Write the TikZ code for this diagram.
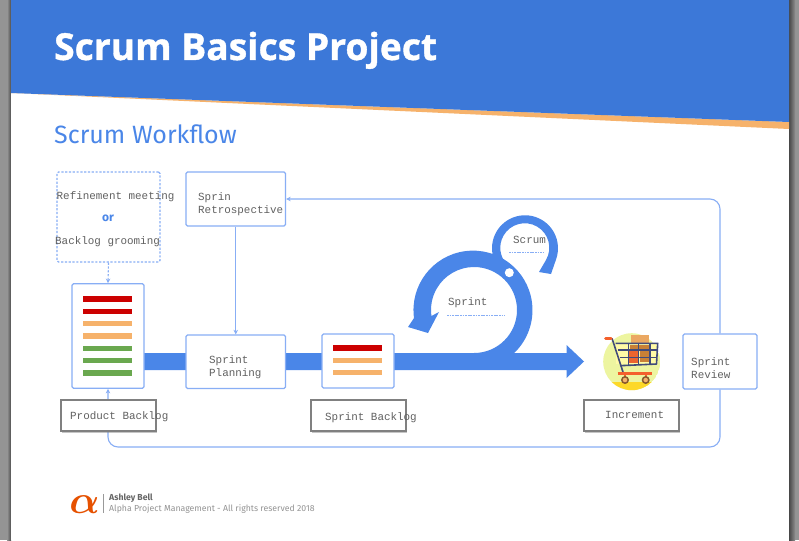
\documentclass[tikz,border=0pt]{standalone}
\usepackage{fontspec}
\setmainfont{Fira Sans}
\setmonofont{Liberation Mono}
\newfontfamily\titlefont[FakeBold=1]{Open Sans Bold}
\usetikzlibrary{arrows.meta,shadows}
\definecolor{headblue}{HTML}{3C78D8}
\definecolor{bandblue}{HTML}{4A86E8}
\definecolor{lineblue}{HTML}{88AEF5}
\definecolor{barred}{HTML}{CC0000}
\definecolor{barorange}{HTML}{F6B26B}
\definecolor{bargreen}{HTML}{6AA84F}
\definecolor{cartnavy}{HTML}{414B7A}
\definecolor{cartred}{HTML}{F4602C}
\definecolor{cartback}{HTML}{EDF5A0}
\definecolor{logored}{HTML}{E65100}
\tikzset{
	box/.style={rectangle,draw=lineblue,fill=white,line width=1.3pt,rounded corners=1.5pt,inner sep=0pt},
	dashbox/.style={box,dash pattern=on 2.2pt off 1.6pt},
	tagbox/.style={rectangle,draw=black!50,fill=white,line width=1.7pt,inner sep=0pt,minimum width=95,minimum height=31,drop shadow={shadow xshift=0.8pt,shadow yshift=-1.6pt,opacity=0.45}},
	txt/.style={anchor=west,inner sep=0pt,text=black!62,font=\ttfamily\fontsize{10.9}{13}\selectfont,align=left},
	flow/.style={draw=lineblue,line width=1.1pt,-{Stealth[length=4.5pt,width=4.5pt]}},
	under/.style={draw=lineblue,line width=0.9pt,dash pattern=on 1.8pt off 0.8pt},
	bar/.style={minimum width=49,minimum height=5.5,inner sep=0pt}
}

\begin{document}
\begin{tikzpicture}[x=1pt,y=1pt]
	\useasboundingbox (0,-540) rectangle (799,0);
	
	% page and margins
	\fill[black!42] (0,-540) rectangle (799,0);
	\shade[left color=black!42,right color=black!70] (7,-540) rectangle (11,0);
	\shade[left color=black!72,right color=black!45] (789,-540) rectangle (795,0);
	\fill[white] (11,-540) rectangle (789,0);
	
	% header
	\fill[barorange] (11,-93) -- (789,-122) -- (789,-129) -- cycle;
	\fill[headblue] (11,0) -- (789,0) -- (789,-122) -- (11,-93) -- cycle;
	\node[anchor=base west,inner sep=0pt,text=white,font=\titlefont\fontsize{37.2}{40}\selectfont] (title) at (54,-60) {Scrum Basics Project};
	\node[anchor=base west,inner sep=0pt,text=bandblue,font=\fontsize{25}{28}\selectfont] (subtitle) at (54,-143.5) {Scrum Workflow};
	
	% band and the two loops
	\fill[bandblue] (143,-353) -- (566.5,-353) -- (566.5,-345) -- (584,-361.5) -- (566.5,-378) -- (566.5,-370) -- (143,-370) -- cycle;
	\fill[bandblue] (474,-355) -- (474,-353) arc (-90:188:43) -- (439,-312) -- (428,-333) -- (408,-327) -- (414,-318) arc (187.6:-46.4:59.5) -- (515,-355) -- cycle;
	\fill[bandblue] (492.5,-254) arc (190:-20:33) -- (551,-274) -- (539,-272) -- (546,-260) arc (-30:225:24.5) -- (515,-280) -- cycle;
	\fill[white] (509.3,-272.7) circle (4.5);
	
	% boxes
	\node[dashbox,minimum width=103,minimum height=90] (refine) at (108.5,-217) {};
	\node[box,minimum width=99.5,minimum height=54] (retro) at (235.75,-199) {};
	\node[box,minimum width=72,minimum height=104.5] (product) at (108,-336) {};
	\node[box,minimum width=99.5,minimum height=53.5] (planning) at (235.75,-361.75) {};
	\node[box,minimum width=72,minimum height=54] (sprintb) at (358,-361) {};
	\node[box,minimum width=74,minimum height=55] (review) at (720,-361.5) {};
	
	% connectors
	\coordinate (loop) at (400,-447);
	\draw[flow,dash pattern=on 2.2pt off 1.6pt] (refine.south) -- (product.north);
	\draw[flow] (retro.south) -- (planning.north);
	\draw[flow,rounded corners=10] (review.north) |- (retro.east);
	\draw[flow,rounded corners=10] (review.south) |- (loop) -| (product.south);
	
	% tags below the boxes
	\node[tagbox] (tagproduct) at (108.25,-415.5) {};
	\node[tagbox] (tagsprint) at (358.25,-415.5) {};
	\node[tagbox] (tagincr) at (631.25,-415.5) {};
	
	% backlog bars
	\node[bar,fill=barred] (p1) at (107,-299) {};
	\node[bar,fill=barred] (p2) at (107,-311.3) {};
	\node[bar,fill=barorange] (p3) at (107,-323.7) {};
	\node[bar,fill=barorange] (p4) at (107,-336) {};
	\node[bar,fill=bargreen] (p5) at (107,-348.3) {};
	\node[bar,fill=bargreen] (p6) at (107,-360.3) {};
	\node[bar,fill=bargreen] (p7) at (107,-373) {};
	\node[bar,fill=barred] (s1) at (357.8,-348) {};
	\node[bar,fill=barorange] (s2) at (357.8,-360.7) {};
	\node[bar,fill=barorange] (s3) at (357.8,-372.7) {};
	
	% texts
	\node[txt] (t1) at (56.5,-197) {Refinement meeting};
	\node[text=bandblue,inner sep=0pt,font=\fontsize{12}{14}\bfseries\selectfont] (t2) at (108,-218) {or};
	\node[txt] (t3) at (55,-242) {Backlog grooming};
	\node[txt] (t4) at (198,-204.2) {Sprin\\Retrospective};
	\node[txt] (t5) at (209,-367) {Sprint\\Planning};
	\node[txt] (t6) at (70,-417) {Product Backlog};
	\node[txt] (t7) at (325,-418) {Sprint Backlog};
	\node[txt] (t8) at (605,-415) {Increment};
	\node[txt] (t9) at (691,-367.7) {Sprint\\Review};
	\node[txt] (t10) at (448,-303) {Sprint};
	\node[txt] (t11) at (513,-240) {Scrum};
	\draw[under] (447,-315) -- (505,-315);
	\draw[under] (509,-252) -- (543,-252);
	
	% shopping cart
	\begin{scope}
		\clip (631.7,-361.7) circle (28.5);
		\fill[cartback] (631.7,-361.7) circle (28.5);
		\fill[yellow!70!orange!85!white] (600,-382) rectangle (664,-392);
	\end{scope}
	\fill[barorange!80!brown] (631,-335) rectangle (649,-343);
	\fill[yellow!35!white] (615.7,-343.3) rectangle (657.7,-364);
	\fill[brown!85!orange] (630,-345) rectangle (650,-350);
	\fill[brown!85!orange] (640,-351) rectangle (651,-362);
	\fill[cartred!85!brown] (628,-351) rectangle (638,-363);
	\draw[cartnavy,line width=1.6pt,line join=round] (612,-338.3) -- (623.3,-373);
	\draw[cartnavy,line width=1.6pt,line join=round] (615.7,-343.3) -- (657.7,-343.3) -- (656.5,-364) -- (620,-365.7);
	\draw[cartnavy,line width=1.3pt] (618,-350) -- (657.3,-350) (620,-357.7) -- (657,-357.7);
	\draw[cartnavy,line width=1.3pt] (628.3,-343.3) -- (628.3,-365) (638.3,-343.3) -- (638.3,-365) (650,-343.3) -- (650,-364);
	\draw[cartred,line width=3pt,line cap=round] (605.5,-338.3) -- (611,-338.3);
	\draw[cartred,line width=2.6pt] (617.7,-373.3) -- (652.3,-373.3);
	\draw[cartred,line width=1.6pt] (625,-373.3) -- (625,-379) (645.7,-373.3) -- (645.7,-379);
	\draw[brown!70!black,line width=1.5pt,fill=barorange] (625,-380) circle (3.2);
	\draw[brown!70!black,line width=1.5pt,fill=barorange] (645.7,-380) circle (3.2);
	
	% footer
	\node[inner sep=0pt,text=logored,scale=1.6] (logo) at (84.5,-505) {{\boldmath\fontsize{24}{24}\selectfont$\alpha$}};
	\draw[black!40,line width=0.6pt] (103,-494) -- (103,-513);
	\node[anchor=west,inner sep=0pt,text=black!60,font=\fontsize{8.7}{10}\bfseries\selectfont] (author) at (109,-498) {Ashley Bell};
	\node[anchor=west,inner sep=0pt,text=black!42,font=\fontsize{8.72}{10}\selectfont] (rights) at (109,-509) {Alpha Project Management - All rights reserved 2018};
\end{tikzpicture}
\end{document}
